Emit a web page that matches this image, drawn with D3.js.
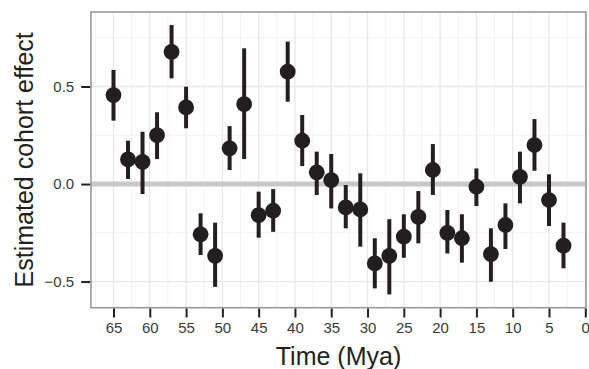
<!DOCTYPE html>
<html><head><meta charset="utf-8">
<script src="https://cdnjs.cloudflare.com/ajax/libs/d3/7.8.5/d3.min.js"></script>
<style>body{margin:0;background:#fff}svg{display:block}text{font-family:"Liberation Sans",Arial,Helvetica,sans-serif}</style>
</head><body><svg id="c" width="589" height="369"></svg>
<script>
const time = [65,63,61,59,57,55,53,51,49,47,45,43,41,39,37,35,33,31,29,27,25,23,21,19,17,15,13,11,9,7,5,3];
const estimate = [0.456,0.126,0.114,0.251,0.678,0.393,-0.258,-0.368,0.183,0.41,-0.159,-0.137,0.576,0.222,0.06,0.02,-0.12,-0.13,-0.407,-0.368,-0.27,-0.168,0.072,-0.25,-0.278,-0.014,-0.359,-0.21,0.037,0.2,-0.082,-0.316];
const lower = [0.325,0.026,-0.051,0.128,0.542,0.286,-0.364,-0.527,0.072,0.128,-0.275,-0.245,0.422,0.092,-0.056,-0.125,-0.227,-0.321,-0.535,-0.566,-0.378,-0.304,-0.056,-0.356,-0.403,-0.113,-0.501,-0.333,-0.099,0.068,-0.215,-0.432];
const upper = [0.585,0.222,0.268,0.368,0.815,0.499,-0.15,-0.198,0.297,0.696,-0.039,-0.026,0.73,0.354,0.166,0.154,-0.005,0.055,-0.278,-0.18,-0.155,-0.036,0.205,-0.133,-0.155,0.08,-0.227,-0.099,0.166,0.333,0.05,-0.198];
const xTicks = [65,60,55,50,45,40,35,30,25,20,15,10,5,0];
const xMinor = [67.5,62.5,57.5,52.5,47.5,42.5,37.5,32.5,27.5,22.5,17.5,12.5,7.5,2.5];
const yTicks = [-0.5,0,0.5];
const yMinor = [-0.25,0.25,0.75];
const xTitle = "Time (Mya)";
const yTitle = "Estimated cohort effect";

const L=91, R=586, T=12, B=307.7;
const x = d3.scaleLinear().domain([68.1,-0.1]).range([L,R]);
const y = d3.scaleLinear().domain([-0.634,0.882]).range([B,T]);
const svg = d3.select("#c");
const data = time.map((t,i)=>({t,e:estimate[i],lo:lower[i],hi:upper[i]}));

const g = svg.append("g");
g.append("rect").attr("x",L).attr("y",T).attr("width",R-L).attr("height",B-T).attr("fill","#fff");
g.selectAll(".xmin").data(xMinor).join("line").attr("x1",d=>x(d)).attr("x2",d=>x(d)).attr("y1",T).attr("y2",B).attr("stroke","#f3f3f3").attr("stroke-width",1);
g.selectAll(".ymin").data(yMinor).join("line").attr("y1",d=>y(d)).attr("y2",d=>y(d)).attr("x1",L).attr("x2",R).attr("stroke","#f3f3f3").attr("stroke-width",1);
g.selectAll(".xmaj").data(xTicks).join("line").attr("x1",d=>x(d)).attr("x2",d=>x(d)).attr("y1",T).attr("y2",B).attr("stroke","#e8e8e8").attr("stroke-width",1.3);
g.selectAll(".ymaj").data(yTicks).join("line").attr("y1",d=>y(d)).attr("y2",d=>y(d)).attr("x1",L).attr("x2",R).attr("stroke","#e8e8e8").attr("stroke-width",1.3);

// zero reference line
g.append("line").attr("x1",L).attr("x2",R).attr("y1",y(0)).attr("y2",y(0)).attr("stroke","#c8c8c8").attr("stroke-width",5);

g.selectAll(".eb").data(data).join("line").attr("x1",d=>x(d.t)).attr("x2",d=>x(d.t)).attr("y1",d=>y(d.lo)).attr("y2",d=>y(d.hi)).attr("stroke","#231f20").attr("stroke-width",4);
g.selectAll(".pt").data(data).join("circle").attr("cx",d=>x(d.t)).attr("cy",d=>y(d.e)).attr("r",7.9).attr("fill","#231f20");

g.append("rect").attr("x",L).attr("y",T).attr("width",R-L).attr("height",B-T).attr("fill","none").attr("stroke","#999").attr("stroke-width",1.6);

const xa = svg.append("g").attr("transform",`translate(0,${B+0.8})`)
  .call(d3.axisBottom(x).tickValues(xTicks).tickSize(9).tickPadding(5).tickFormat(d3.format("d")));
const ya = svg.append("g").attr("transform",`translate(${L-0.8},0)`)
  .call(d3.axisLeft(y).tickValues(yTicks).tickSize(9).tickPadding(7).tickFormat(d3.format(".1f")));
[xa,ya].forEach(a=>{
  a.select(".domain").remove();
  a.selectAll(".tick line").attr("stroke","#231f20").attr("stroke-width",2);
  a.selectAll(".tick text").attr("fill","#3a3a3a").style("font-size","15px");
});

svg.append("text").attr("x",(L+R)/2+ -0).attr("y",365).attr("text-anchor","middle").attr("fill","#231f20").style("font-size","25px").text(xTitle);
svg.append("text").attr("transform",`translate(33,${(T+B)/2}) rotate(-90)`).attr("text-anchor","middle").attr("fill","#231f20").style("font-size","25px").text(yTitle);
</script></body></html>
